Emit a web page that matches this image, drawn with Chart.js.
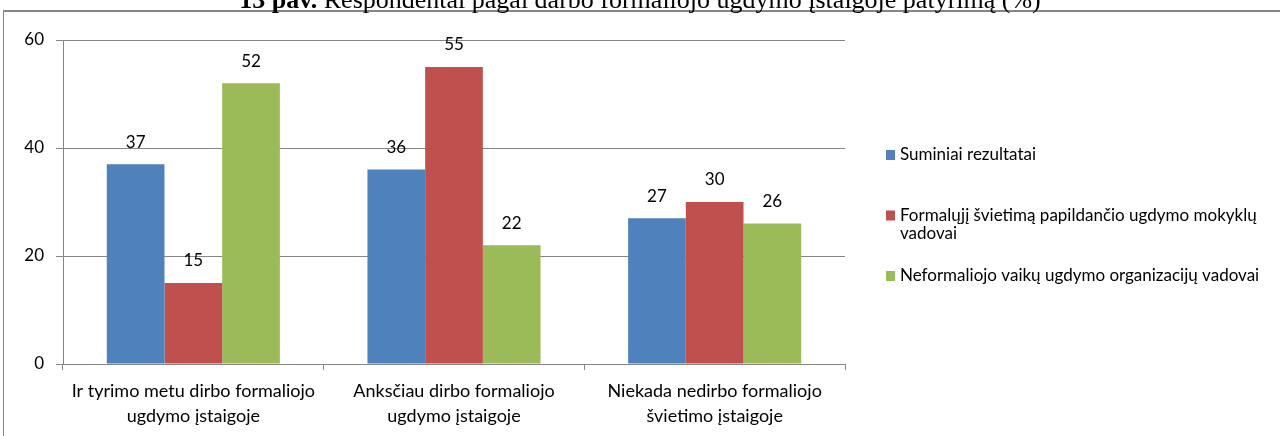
<!DOCTYPE html>
<html>
<head>
<meta charset="utf-8">
<script src="https://cdn.jsdelivr.net/npm/chart.js@4"></script>
<style>
  html, body { margin: 0; padding: 0; background: #fff; overflow: hidden; }
  #wrap { position: absolute; left: 0; top: 0; width: 1280px; height: 436px; }
</style>
</head>
<body>
<div id="wrap"><canvas id="chart" width="1280" height="436"></canvas></div>
<script>
// data
const categories = [
    ["Ir tyrimo metu dirbo formaliojo", "ugdymo įstaigoje"],
    ["Anksčiau dirbo formaliojo", "ugdymo įstaigoje"],
    ["Niekada nedirbo formaliojo", "švietimo įstaigoje"]
];
const seriesNames = [
    "Suminiai rezultatai",
    "Formalųjį švietimą papildančio ugdymo mokyklų vadovai",
    "Neformaliojo vaikų ugdymo organizacijų vadovai"
];
const suminiai = [37, 36, 27];
const papildancio = [15, 55, 30];
const neformalaus = [52, 22, 26];
const yTicks = [0, 20, 40, 60];
const colors = ["#4F81BD", "#C0504D", "#9BBB59"];

const titleBold = "13 pav.";
const titleRest = " Respondentai pagal darbo formaliojo ugdymo įstaigoje patyrimą (%)";

const FONT = "Lato, sans-serif";
const GRID = "#868686";

Chart.defaults.color = "#000";
Chart.defaults.font.family = FONT;
Chart.defaults.font.size = 17;

// frame and title, drawn behind the chart
const framePlugin = {
    id: "frame",
    beforeDraw(chart) {
        const ctx = chart.ctx;
        ctx.save();
        ctx.fillStyle = "#fff";
        ctx.fillRect(0, 0, chart.width, chart.height);
        ctx.strokeStyle = GRID;
        ctx.lineWidth = 2;
        ctx.beginPath();
        ctx.moveTo(3, 11);
        ctx.lineTo(chart.width, 11);
        ctx.stroke();
        ctx.lineWidth = 1;
        ctx.beginPath();
        ctx.moveTo(3.5, 10);
        ctx.lineTo(3.5, chart.height);
        ctx.stroke();

        ctx.fillStyle = "#000";
        ctx.textBaseline = "alphabetic";
        ctx.font = "bold 26px 'Liberation Serif', serif";
        const wb = ctx.measureText(titleBold).width;
        ctx.font = "26px 'Liberation Serif', serif";
        const wr = ctx.measureText(titleRest).width;
        let x = 640 - (wb + wr) / 2;
        ctx.font = "bold 26px 'Liberation Serif', serif";
        ctx.fillText(titleBold, x, 8);
        ctx.font = "26px 'Liberation Serif', serif";
        ctx.fillText(titleRest, x + wb, 8);
        ctx.restore();
    }
};

// value labels above bars
const valueLabels = {
    id: "valueLabels",
    afterDatasetsDraw(chart) {
        const ctx = chart.ctx;
        ctx.save();
        ctx.font = "17px " + FONT;
        ctx.fillStyle = "#000";
        ctx.textAlign = "center";
        ctx.textBaseline = "middle";
        chart.data.datasets.forEach((ds, i) => {
            chart.getDatasetMeta(i).data.forEach((bar, j) => {
                ctx.fillText(ds.data[j], bar.x, bar.y - 22);
            });
        });
        ctx.restore();
    }
};

// legend on the right, Excel style
const sideLegend = {
    id: "sideLegend",
    afterDraw(chart) {
        const ctx = chart.ctx;
        ctx.save();
        ctx.font = "17px " + FONT;
        ctx.fillStyle = "#000";
        ctx.textBaseline = "middle";
        const boxX = 886, textX = 900, maxW = 1277 - textX;
        let y = 155;
        chart.data.datasets.forEach((ds) => {
            const words = ds.label.split(" ");
            const lines = [];
            let line = "";
            words.forEach(w => {
                const test = line ? line + " " + w : w;
                if (ctx.measureText(test).width > maxW && line) {
                    lines.push(line);
                    line = w;
                } else {
                    line = test;
                }
            });
            lines.push(line);
            ctx.fillStyle = ds.backgroundColor;
            ctx.fillRect(boxX, y - 5, 9, 10);
            ctx.fillStyle = "#000";
            lines.forEach((l, k) => ctx.fillText(l, textX, y + k * 18));
            y += 60.5;
        });
        ctx.restore();
    }
};

new Chart(document.getElementById("chart").getContext("2d"), {
    type: "bar",
    data: {
        labels: categories,
        datasets: [
            { label: seriesNames[0], data: suminiai, backgroundColor: colors[0] },
            { label: seriesNames[1], data: papildancio, backgroundColor: colors[1] },
            { label: seriesNames[2], data: neformalaus, backgroundColor: colors[2] }
        ].map(d => Object.assign(d, { categoryPercentage: 0.664, barPercentage: 1, borderWidth: 0 }))
    },
    options: {
        responsive: false,
        animation: false,
        events: [],
        layout: { padding: { left: 0, top: 40, right: 435, bottom: 0 } },
        plugins: {
            legend: { display: false },
            tooltip: { enabled: false }
        },
        scales: {
            x: {
                grid: { drawOnChartArea: false, drawTicks: true, tickLength: 6, color: GRID },
                border: { display: true, color: GRID, width: 1 },
                ticks: { font: { size: 18, lineHeight: 1.42 }, padding: 8, maxRotation: 0, autoSkip: false, color: "#000" },
                afterFit(scale) { scale.height = 72; }
            },
            y: {
                min: 0,
                max: 60,
                afterBuildTicks(scale) { scale.ticks = yTicks.map(v => ({ value: v })); },
                grid: { color: GRID, tickLength: 7, drawTicks: true },
                border: { display: true, color: GRID, width: 1 },
                ticks: { font: { size: 17 }, padding: 12, color: "#000" },
                afterFit(scale) { scale.width = 63; }
            }
        }
    },
    plugins: [framePlugin, valueLabels, sideLegend]
});
</script>
</body>
</html>
